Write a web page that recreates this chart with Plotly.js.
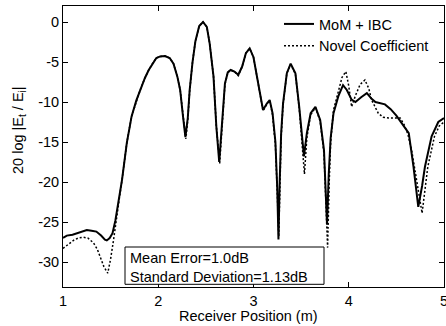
<!DOCTYPE html>
<html>
<head>
<meta charset="utf-8">
<script src="https://cdn.plot.ly/plotly-3.0.1.min.js"></script>
<style>html,body{margin:0;padding:0;background:#fff;}#chart{width:446px;height:326px;}</style>
</head>
<body>
<div id="chart"></div>
<script>
// Series: MoM + IBC (solid)
const momX = [1.00,1.04,1.10,1.17,1.25,1.30,1.35,1.40,1.44,1.46,1.49,1.52,1.55,1.58,1.62,1.67,1.72,1.77,1.81,1.86,1.90,1.95,1.98,2.02,2.07,2.12,2.16,2.20,2.23,2.26,2.285,2.31,2.33,2.36,2.39,2.43,2.47,2.51,2.54,2.58,2.61,2.64,2.67,2.70,2.73,2.76,2.80,2.84,2.88,2.92,2.96,3.00,3.03,3.07,3.10,3.14,3.17,3.20,3.23,3.25,3.262,3.275,3.29,3.31,3.35,3.39,3.44,3.48,3.51,3.53,3.56,3.60,3.65,3.70,3.74,3.76,3.772,3.79,3.81,3.84,3.89,3.94,3.98,4.03,4.07,4.13,4.19,4.24,4.28,4.38,4.44,4.50,4.57,4.63,4.68,4.73,4.77,4.80,4.87,4.94,5.00];
const momY = [-27.0,-26.7,-26.6,-26.3,-26.0,-26.1,-26.2,-26.7,-27.2,-27.3,-27.0,-26.4,-24.8,-22.6,-19.7,-15.1,-11.8,-9.8,-8.5,-7.0,-6.0,-5.0,-4.5,-4.3,-4.25,-4.5,-5.2,-6.8,-8.5,-11.8,-14.4,-12.0,-8.5,-5.0,-2.4,-0.5,0.0,-0.6,-2.7,-6.8,-13.1,-17.5,-13.1,-7.7,-6.3,-6.0,-6.2,-6.6,-5.6,-3.9,-3.3,-4.4,-6.4,-8.9,-11.0,-10.2,-9.75,-11.4,-15.0,-21.0,-27.2,-20.0,-14.0,-10.2,-6.4,-5.2,-6.4,-10.6,-14.5,-16.8,-13.9,-11.4,-10.6,-12.25,-16.0,-21.0,-25.3,-19.0,-14.5,-11.4,-9.3,-7.9,-8.5,-9.7,-10.0,-9.4,-8.9,-9.6,-10.0,-10.3,-10.9,-11.7,-12.9,-13.9,-18.1,-23.1,-20.5,-18.1,-14.3,-12.5,-12.0];

// Series: Novel Coefficient (dotted)
const novelX = [1.00,1.05,1.11,1.16,1.21,1.26,1.32,1.36,1.39,1.43,1.47,1.50,1.53,1.56,1.59,1.62,1.67,1.72,1.77,1.81,1.86,1.90,1.95,1.98,2.02,2.07,2.12,2.16,2.20,2.23,2.26,2.29,2.31,2.33,2.36,2.39,2.43,2.47,2.51,2.54,2.58,2.61,2.645,2.67,2.70,2.73,2.76,2.80,2.84,2.88,2.92,2.96,3.00,3.03,3.07,3.10,3.14,3.17,3.20,3.23,3.25,3.265,3.28,3.29,3.31,3.35,3.39,3.44,3.48,3.51,3.535,3.56,3.60,3.65,3.70,3.74,3.76,3.778,3.795,3.81,3.84,3.89,3.93,3.97,4.00,4.03,4.07,4.12,4.17,4.21,4.24,4.31,4.36,4.42,4.48,4.54,4.58,4.62,4.66,4.70,4.74,4.77,4.80,4.83,4.90,4.95,5.00];
const novelY = [-28.3,-27.8,-27.3,-27.0,-26.9,-27.0,-27.6,-28.4,-29.3,-30.6,-31.4,-29.6,-27.3,-24.5,-22.2,-19.7,-15.1,-11.8,-9.8,-8.5,-7.0,-6.0,-5.0,-4.5,-4.3,-4.25,-4.5,-5.2,-6.8,-8.5,-11.6,-14.6,-12.2,-8.6,-5.0,-2.4,-0.5,0.0,-0.6,-2.7,-6.8,-13.0,-17.7,-13.4,-7.8,-6.3,-6.0,-6.2,-6.7,-5.6,-3.9,-3.3,-4.4,-6.4,-8.9,-11.1,-10.3,-9.8,-11.6,-15.4,-21.5,-26.8,-19.5,-14.5,-10.4,-6.4,-5.3,-6.5,-10.8,-15.0,-19.0,-14.5,-11.6,-10.7,-12.4,-16.5,-22.0,-28.2,-20.0,-15.0,-11.0,-8.5,-6.9,-6.2,-8.0,-10.6,-9.2,-7.8,-7.25,-8.3,-9.75,-11.4,-11.9,-12.0,-12.0,-12.0,-12.8,-14.0,-16.0,-18.9,-22.0,-23.9,-21.0,-18.1,-14.3,-13.0,-12.5];

const seriesNames = ['MoM + IBC', 'Novel Coefficient'];
const xTickVals = [1,2,3,4,5];
const xTickText = ['1','2','3','4','5'];
const yTickVals = [0,-5,-10,-15,-20,-25,-30];
const yTickText = ['0','-5','-10','-15','-20','-25','-30'];
const xTitle = 'Receiver Position (m)';
const yTitle = '20 log |E<sub>t</sub> / E<sub>i</sub>|';
const statsText = 'Mean Error=1.0dB<br>Standard Deviation=1.13dB';

const FONT = 'Liberation Sans, Arial, Helvetica, sans-serif';
const FS = 14.5;

const traces = [
  {x: momX, y: momY, type: 'scatter', mode: 'lines', name: seriesNames[0],
   line: {color: '#000', width: 2}},
  {x: novelX, y: novelY, type: 'scatter', mode: 'lines', name: seriesNames[1],
   line: {color: '#000', width: 1.5, dash: '2px,2px'}}
];

// plot area in pixels: left 63, right 444, top 6, bottom 287
const W = 446, H = 326, L = 63, R = 2, T = 6, B = 39;
const pw = W - L - R, ph = H - T - B;
const px = v => (v - L) / pw;
const py = v => (H - B - v) / ph;

const axisCommon = {
  showgrid: false, zeroline: false, showline: true, linecolor: '#000', linewidth: 1,
  mirror: 'ticks', ticks: 'inside', ticklen: 5, tickcolor: '#000', tickwidth: 1,
  tickfont: {family: FONT, size: FS, color: '#000'}, tickmode: 'array',
  ticklabeloverflow: 'allow'
};

const layout = {
  width: W, height: H,
  margin: {l: L, r: R, t: T, b: B, pad: 0},
  paper_bgcolor: '#fff', plot_bgcolor: '#fff',
  font: {family: FONT, size: FS, color: '#000'},
  showlegend: true,
  legend: {x: px(279), y: py(8), xanchor: 'left', yanchor: 'top',
           bgcolor: 'rgba(0,0,0,0)', borderwidth: 0,
           font: {family: FONT, size: FS, color: '#000'}, tracegroupgap: 0},
  xaxis: Object.assign({}, axisCommon, {range: [1, 5], tickvals: xTickVals, ticktext: xTickText,
           ticklabelstandoff: 1}),
  yaxis: Object.assign({}, axisCommon, {range: [-33.125, 2], tickvals: yTickVals, ticktext: yTickText,
           ticklabelstandoff: 0}),
  shapes: [
    {type: 'rect', xref: 'paper', yref: 'paper', x0: px(125), x1: px(324), y0: py(284.3), y1: py(247),
     line: {color: '#000', width: 1}, fillcolor: '#fff', layer: 'above'}
  ],
  annotations: [
    {xref: 'paper', yref: 'paper', x: px(128), y: py(267.5), xanchor: 'left', yanchor: 'middle',
     text: statsText, showarrow: false, align: 'left', font: {family: FONT, size: FS, color: '#000'}},
    {xref: 'paper', yref: 'paper', x: px(248), y: py(316), xanchor: 'center', yanchor: 'middle',
     text: xTitle, showarrow: false, font: {family: FONT, size: FS, color: '#000'}},
    {xref: 'paper', yref: 'paper', x: px(19), y: py(130), xanchor: 'center', yanchor: 'middle',
     text: yTitle, textangle: -90, showarrow: false, font: {family: FONT, size: FS, color: '#000'}}
  ]
};

Plotly.newPlot('chart', traces, layout, {displayModeBar: false, staticPlot: true});
</script>
</body>
</html>
